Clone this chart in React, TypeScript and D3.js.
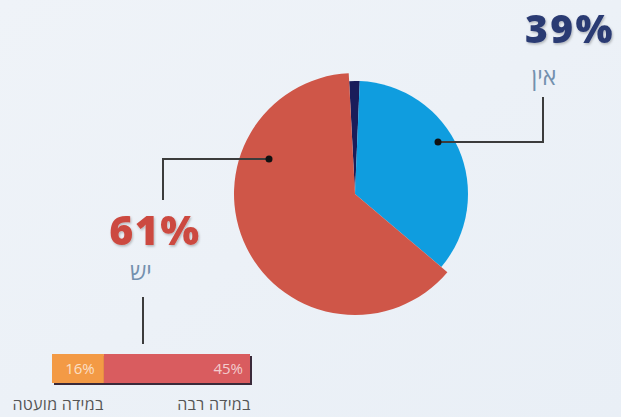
import React from "react";
import * as d3 from "d3";

const pieLabels = ["לא יודע", "אין", "יש"];
const pieValues = [1.5, 35.5, 63];
const pieColors = ["#1a1d5a", "#0f9ddf", "#cf5648"];
const pieRadii = [113, 113, 121];

const barLabels = ["במידה מועטה", "במידה רבה"];
const barValues = [16, 45];
const barColors = ["#f39a45", "#d95c5f"];

const headline = [
  { pct: "39%", word: "אין" },
  { pct: "61%", word: "יש" },
];

const W = 621;
const H = 417;

export default function App() {
  const cx = 355;
  const cy = 194;
  const start = -0.052;
  const pie = d3
    .pie<number>()
    .sort(null)
    .startAngle(start)
    .endAngle(start + Math.PI * 2)
    .value((d) => d);
  const arcs = pie(pieValues);
  const arcGen = d3.arc<d3.PieArcDatum<number>>().innerRadius(0);

  const x = d3.scaleLinear().domain([0, d3.sum(barValues)]).range([52, 250]);
  const stack = barValues.map((v, i) => ({
    v,
    x0: d3.sum(barValues.slice(0, i)),
    x1: d3.sum(barValues.slice(0, i + 1)),
  }));
  const barY = 354;
  const barH = 29;
  const font = "'Open Sans', 'Noto Sans', sans-serif";

  return (
    <svg width={W} height={H} style={{ position: "absolute", left: 0, top: 0 }}>
      <defs>
        <linearGradient id="bg" x1="0" y1="0" x2="1" y2="1">
          <stop offset="0" stopColor="#eff3f8" />
          <stop offset="1" stopColor="#e9eff6" />
        </linearGradient>
        <filter id="sh" x="-20%" y="-20%" width="140%" height="140%">
          <feDropShadow dx="1" dy="1.5" stdDeviation="1.2" floodColor="#000" floodOpacity="0.25" />
        </filter>
      </defs>
      <rect width={W} height={H} fill="url(#bg)" />

      {/* pie */}
      <g transform={`translate(${cx},${cy})`}>
        {arcs.map((a, i) => (
          <path
            key={pieLabels[i]}
            d={arcGen.outerRadius(pieRadii[i])(a) as string}
            fill={pieColors[i]}
          />
        ))}
      </g>

      {/* connectors */}
      <g stroke="#3c3c3c" strokeWidth={2} fill="none">
        <polyline points="438,142 543,142 543,97" />
        <polyline points="269,159 163,159 163,200" />
        <line x1={143} y1={297} x2={143} y2={344} />
      </g>
      <circle cx={438} cy={142} r={3.5} fill="#111" />
      <circle cx={269} cy={159} r={3.5} fill="#111" />

      {/* headline labels */}
      <text
        x={570}
        y={43}
        textAnchor="middle"
        fontFamily={font}
        fontWeight={800}
        fontSize={39}
        fill="#2b3b73"
        filter="url(#sh)"
        letterSpacing={2.5}
      >
        {headline[0].pct}
      </text>
      <text x={544} y={85} textAnchor="middle" fontFamily={font} fontSize={23} fill="#7390ae">
        {headline[0].word}
      </text>
      <text
        x={155}
        y={245}
        textAnchor="middle"
        fontFamily={font}
        fontWeight={800}
        fontSize={41}
        fill="#cc4a3f"
        filter="url(#sh)"
        letterSpacing={1.5}
      >
        {headline[1].pct}
      </text>
      <text x={141} y={280} textAnchor="middle" fontFamily={font} fontSize={23} fill="#7390ae">
        {headline[1].word}
      </text>

      {/* stacked bar */}
      <rect
        x={x(0) + 2}
        y={barY + 2}
        width={x(d3.sum(barValues)) - x(0)}
        height={barH}
        fill="#3a2a3a"
      />
      {stack.map((s, i) => (
        <rect
          key={barLabels[i]}
          x={x(s.x0)}
          y={barY}
          width={x(s.x1) - x(s.x0)}
          height={barH}
          fill={barColors[i]}
        />
      ))}
      <text
        x={(x(stack[0].x0) + x(stack[0].x1)) / 2 + 2}
        y={barY + 20}
        textAnchor="middle"
        fontFamily={font}
        fontSize={15}
        fill="#fff"
        fillOpacity={0.7}
      >
        {barValues[0]}%
      </text>
      <text
        x={x(stack[1].x1) - 7}
        y={barY + 20}
        textAnchor="end"
        fontFamily={font}
        fontSize={15}
        fill="#fff"
        fillOpacity={0.7}
      >
        {barValues[1]}%
      </text>
      <text x={58} y={410} textAnchor="middle" fontFamily={font} fontSize={16} fill="#555" letterSpacing={0.3}>
        {barLabels[0]}
      </text>
      <text x={214} y={410} textAnchor="middle" fontFamily={font} fontSize={16} fill="#555" letterSpacing={0.3}>
        {barLabels[1]}
      </text>
    </svg>
  );
}
